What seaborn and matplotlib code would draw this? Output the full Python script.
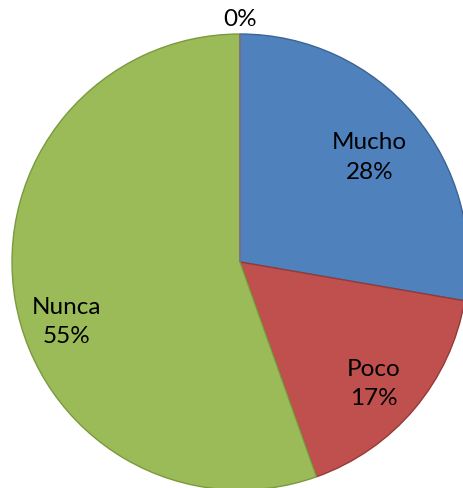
import numpy as np
import matplotlib
matplotlib.use("Agg")
import matplotlib.pyplot as plt
import seaborn as sns

categories = ["Mucho", "Poco", "Nunca", ""]
counts = [28, 17, 56, 0]
colors = ["#4F81BD", "#C0504D", "#9BBB59", "#8064A2"]
edge_colors = ["#3A6595", "#953A38", "#7A9A3E", "#7A5F9C"]

sns.set_theme(style="white")
plt.rcParams["font.family"] = ["Lato", "DejaVu Sans"]

fig = plt.figure(figsize=(4.63, 4.89), dpi=100)
ax = fig.add_axes([0, 0, 1, 1])

cx, cy, R = 240, 226, 228
total = sum(counts)
wedges, _ = ax.pie(counts, colors=colors, startangle=90, counterclock=False,
                   center=(cx, cy), radius=R, normalize=True, frame=True,
                   wedgeprops=dict(linewidth=1.0))
for w, ec in zip(wedges, edge_colors):
    w.set_edgecolor(ec)

ax.set_xlim(0, 463)
ax.set_ylim(0, 489)
ax.set_aspect("equal")
ax.axis("off")

# label placement (fraction of radius, angle in degrees)
label_layout = [(0.733, 39.1), (0.79, -42.1), (0.805, 198.7), (1.066, 90)]
for cat, c, (rf, ang) in zip(categories, counts, label_layout):
    pct = f"{round(100 * c / total):d}%"
    txt = f"{cat}\n{pct}" if cat else pct
    a = np.deg2rad(ang)
    ax.text(cx + rf * R * np.cos(a), cy + rf * R * np.sin(a), txt,
            ha="center", va="center", fontsize=17.5, color="#000000",
            linespacing=1.5)

fig.savefig("out.png", dpi=100)
